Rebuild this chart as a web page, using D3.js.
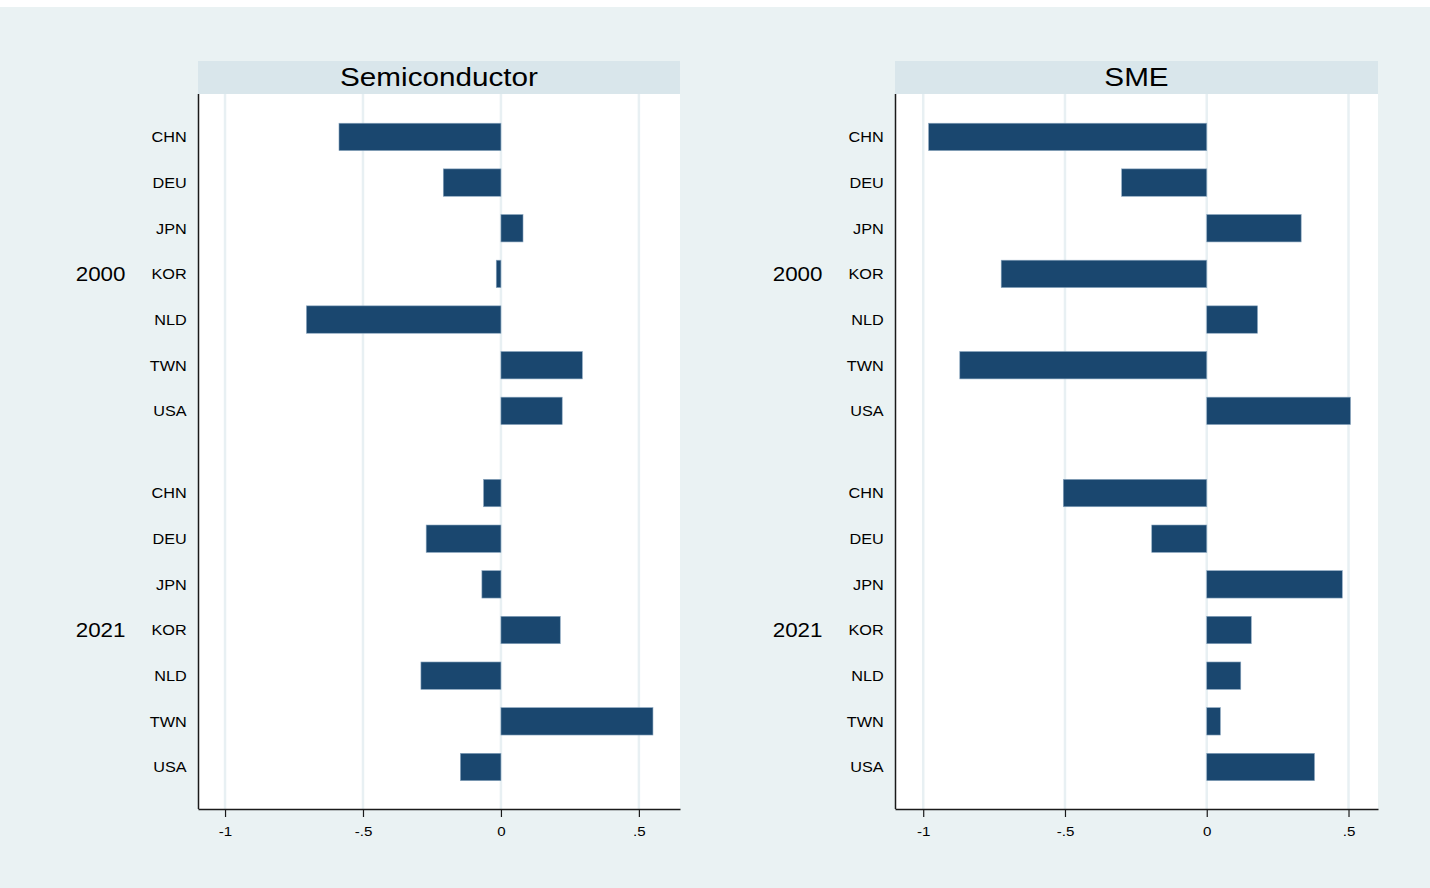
<!DOCTYPE html>
<html>
<head>
<meta charset="utf-8">
<script src="https://cdn.jsdelivr.net/npm/d3@7"></script>
<style>
  html, body { margin: 0; padding: 0; background: #ffffff; }
  svg { display: block; font-family: "Liberation Sans", Arial, sans-serif; }
</style>
</head>
<body>
<svg id="chart" width="1430" height="888"></svg>
<script>
// Countries and years shown on the category axis
const countries = ["CHN", "DEU", "JPN", "KOR", "NLD", "TWN", "USA"];
const years = ["2000", "2021"];

// Values per panel and year, in country order
const semiconductor2000 = [-0.587, -0.209, 0.080, -0.017, -0.705, 0.295, 0.222];
const semiconductor2021 = [-0.063, -0.271, -0.069, 0.215, -0.290, 0.551, -0.147];
const sme2000 = [-0.981, -0.300, 0.333, -0.725, 0.179, -0.871, 0.507];
const sme2021 = [-0.506, -0.194, 0.478, 0.157, 0.120, 0.048, 0.380];

// Value axis ticks and their labels
const tickValues = [-1, -0.5, 0, 0.5];
const tickLabels = ["-1", "-.5", "0", ".5"];

const panelTitles = ["Semiconductor", "SME"];
const panelSeries = [
  [semiconductor2000, semiconductor2021],
  [sme2000, sme2021]
];

// ---- layout ----
const W = 1430, H = 888;
const plotTop = 94, plotBottom = 809;
const stripTop = 61;
const panels = [
  { left: 198, right: 680, domain: [-1.098, 0.649] },
  { left: 895, right: 1378, domain: [-1.0995, 0.604] }
];
const groupGap = 0.8;           // extra slots between the two year groups
const barFrac = 0.6;            // bar thickness as a share of one slot
const stretch = 1.12;           // horizontal text widening

const colors = {
  page: "#eaf2f3",
  strip: "#d9e6eb",
  plot: "#ffffff",
  grid: "#e8f0f3",
  bar: "#1a476f",
  barEdge: "#8aa6bf",
  axis: "#1a1a1a",
  text: "#000000"
};

const svg = d3.select("#chart");
svg.append("rect").attr("x", 0).attr("y", 0).attr("width", W).attr("height", H).attr("fill", "#ffffff");
svg.append("rect").attr("x", 0).attr("y", 7).attr("width", W).attr("height", H - 7).attr("fill", colors.page);

// Row slot positions: group g, country i
const slot = (g, i) => g * (countries.length + groupGap) + i;
const nSlots = slot(years.length - 1, countries.length - 1);
const y = d3.scaleLinear()
  .domain([-0.94, nSlots + 0.92])
  .range([plotTop, plotBottom]);
const step = y(1) - y(0);

function stretchedText(parent, x, yPos, str, size, anchor) {
  return parent.append("text")
    .attr("transform", `translate(${x},${yPos}) scale(${stretch},1)`)
    .attr("text-anchor", anchor)
    .attr("font-size", size)
    .attr("fill", colors.text)
    .text(str);
}

panels.forEach((p, pi) => {
  const g = svg.append("g");
  const x = d3.scaleLinear().domain(p.domain).range([p.left, p.right]);

  // plot region
  g.append("rect")
    .attr("x", p.left).attr("y", plotTop)
    .attr("width", p.right - p.left).attr("height", plotBottom - plotTop)
    .attr("fill", colors.plot);

  // title strip
  g.append("rect")
    .attr("x", p.left).attr("y", stripTop)
    .attr("width", p.right - p.left).attr("height", plotTop - stripTop)
    .attr("fill", colors.strip);
  stretchedText(g, (p.left + p.right) / 2, 85.5, panelTitles[pi], 26.5, "middle");

  // vertical grid lines
  g.selectAll("line.grid")
    .data(tickValues)
    .join("line")
    .attr("class", "grid")
    .attr("x1", d => x(d)).attr("x2", d => x(d))
    .attr("y1", plotTop).attr("y2", plotBottom)
    .attr("stroke", colors.grid)
    .attr("stroke-width", 2.5);

  // bars
  const rows = [];
  years.forEach((yr, gi) => {
    countries.forEach((c, ci) => {
      rows.push({ year: yr, country: c, pos: slot(gi, ci), value: panelSeries[pi][gi][ci] });
    });
  });
  g.selectAll("rect.bar")
    .data(rows)
    .join("rect")
    .attr("class", "bar")
    .attr("x", d => x(Math.min(0, d.value)))
    .attr("width", d => Math.abs(x(d.value) - x(0)))
    .attr("y", d => y(d.pos) - step * barFrac / 2)
    .attr("height", step * barFrac)
    .attr("fill", colors.bar)
    .attr("stroke", colors.barEdge)
    .attr("stroke-width", 0.6);

  // bottom (value) axis
  const xAxis = d3.axisBottom(x)
    .tickValues(tickValues)
    .tickFormat((d, i) => tickLabels[i])
    .tickSize(8)
    .tickSizeOuter(0)
    .tickPadding(9.5);
  const xg = g.append("g")
    .attr("transform", `translate(0,${plotBottom})`)
    .call(xAxis);
  xg.select(".domain").attr("stroke", colors.axis).attr("stroke-width", 1.5);
  xg.selectAll(".tick line").attr("stroke", colors.axis).attr("stroke-width", 1.2);
  xg.selectAll(".tick text")
    .attr("font-size", 13.5)
    .attr("font-family", "Liberation Sans, Arial, sans-serif")
    .attr("fill", colors.text)
    .attr("transform", `scale(${stretch},1)`);

  // left (category) axis
  const yAxis = d3.axisLeft(y)
    .tickValues(rows.map(r => r.pos))
    .tickFormat(v => rows.find(r => r.pos === v).country)
    .tickSize(0)
    .tickSizeOuter(0)
    .tickPadding(0);
  const yg = g.append("g")
    .attr("transform", `translate(${p.left},0)`)
    .call(yAxis);
  yg.select(".domain").attr("stroke", colors.axis).attr("stroke-width", 1.5)
    .attr("d", `M0.5,${plotBottom}V${plotTop}`);
  yg.selectAll(".tick text")
    .attr("font-size", 14.5)
    .attr("font-family", "Liberation Sans, Arial, sans-serif")
    .attr("fill", colors.text)
    .attr("x", 0)
    .attr("dy", null)
    .attr("y", 4.8)
    .attr("transform", `translate(-11.3,0) scale(${stretch},1)`);

  // year group labels
  years.forEach((yr, gi) => {
    const center = y(slot(gi, (countries.length - 1) / 2));
    stretchedText(g, p.left - 72.5, center + 7, yr, 20, "end");
  });
});
</script>
</body>
</html>
